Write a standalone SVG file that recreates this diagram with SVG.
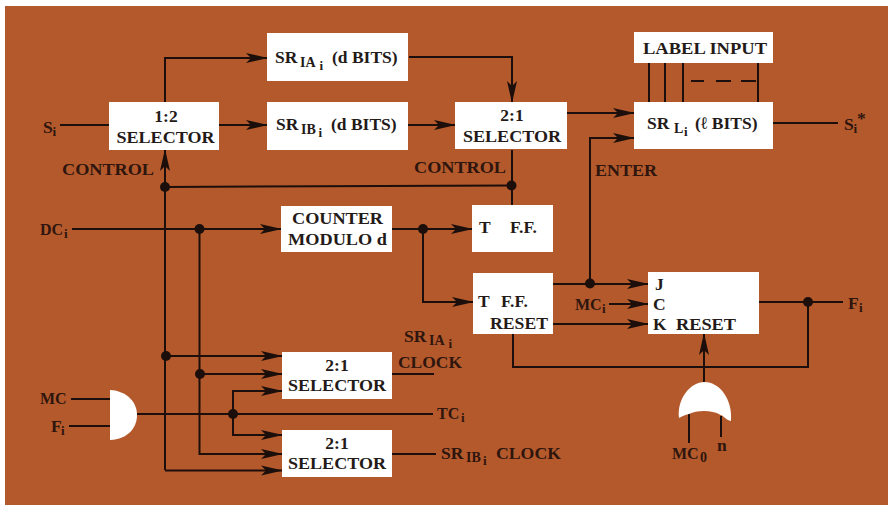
<svg xmlns="http://www.w3.org/2000/svg" width="888" height="505" viewBox="0 0 888 505">
<style>
text{font-family:"Liberation Serif","Times New Roman",serif;font-weight:700;font-size:17.5px;fill:#241a18}
.o{fill:#2e150e}
.m{text-anchor:middle}
.s{font-size:14px}
.ss{font-size:13px}
.n{font-size:16px}
.b{fill:#fff}
.w{fill:none;stroke:#1c0f0b;stroke-width:2}
.a{marker-end:url(#arr)}
.j{fill:#1c0f0b}
</style>
<defs>
<marker id="arr" markerUnits="userSpaceOnUse" markerWidth="22" markerHeight="11" viewBox="0 0 22 11" refX="21" refY="5.500" orient="auto"><path d="M0 0.500L22 5.500L0 10.500L5 5.500Z" fill="#1c0f0b"/></marker>
</defs>
<rect width="888" height="505" fill="#fff"/>
<rect x="5" y="6" width="883" height="499" fill="#b4592b"/>

<g id="connectors">
<path class="w a" d="M165 102V58H267"/>
<path class="w" d="M60 125H109"/>
<path class="w a" d="M219 125H267"/>
<path class="w a" d="M409 57H512V102"/>
<path class="w a" d="M408 125H455"/>
<path class="w a" d="M567 113H634"/>
<path class="w a" d="M590 283V138H634"/>
<path class="w" d="M773 123H838"/>
<path class="w" d="M649 63V102M665 63V102M683 63V102M758 63V103"/>
<path class="w" d="M691 81H704M716 81H731M741 81H756"/>
<path class="w a" d="M165 470V150"/>
<path class="w" d="M165 187L512 185.500"/>
<path class="w" d="M512 150V205"/>
<path class="w a" d="M72 229H281"/>
<path class="w a" d="M199.500 229V454H282"/>
<path class="w a" d="M165 356H282"/>
<path class="w a" d="M200 374H282"/>
<path class="w a" d="M165 470.500H282"/>
<path class="w a" d="M392 229H472"/>
<path class="w a" d="M423 229V302H473"/>
<path class="w a" d="M553 284H648"/>
<path class="w a" d="M609 304H648"/>
<path class="w a" d="M553 324H648"/>
<path class="w" d="M759 302H843"/>
<path class="w" d="M808 302V367H513V334"/>
<path class="w a" d="M704 382V334"/>
<path class="w" d="M689 414V443M721 416V437"/>
<path class="w" d="M71 399H110M69 426H110"/>
<path class="w" d="M137 414H433"/>
<path class="w a" d="M233 414V391H282"/>
<path class="w a" d="M233 414V435H282"/>
<path class="w" d="M392 374H434M392 454H436"/>
<circle class="j" cx="165" cy="187" r="5"/>
<circle class="j" cx="511.500" cy="185.500" r="5"/>
<circle class="j" cx="199.500" cy="229" r="5"/>
<circle class="j" cx="423" cy="229" r="5"/>
<circle class="j" cx="166" cy="356" r="5"/>
<circle class="j" cx="200" cy="374" r="5"/>
<circle class="j" cx="233" cy="414" r="5"/>
<circle class="j" cx="590" cy="283.500" r="5"/>
<circle class="j" cx="808" cy="302" r="5"/>
</g>

<g id="sr-ia"><rect class="b" x="267" y="33" width="141" height="48"/><text x="275" y="63">SR<tspan class="s" x="300" y="67">IA</tspan><tspan class="ss" x="319.500" y="70">i</tspan><tspan x="332" y="63">(d BITS)</tspan></text></g>
<g id="sr-ib"><rect class="b" x="267" y="102" width="141" height="48"/><text x="276" y="130">SR<tspan class="s" x="301" y="134">IB</tspan><tspan class="ss" x="318.500" y="137">i</tspan><tspan x="331" y="130">(d BITS)</tspan></text></g>
<g id="sel-12"><rect class="b" x="109" y="102" width="110" height="48"/><text class="m" x="166" y="122">1:2</text><text class="m" x="165.500" y="143" textLength="98" lengthAdjust="spacingAndGlyphs">SELECTOR</text></g>
<g id="sel-21"><rect class="b" x="455" y="102" width="112" height="47"/><text class="m" x="512" y="121">2:1</text><text class="m" x="512" y="142" textLength="98" lengthAdjust="spacingAndGlyphs">SELECTOR</text></g>
<g id="label-input"><rect class="b" x="634" y="32" width="139" height="31"/><text class="m" x="705" y="54" textLength="124" lengthAdjust="spacingAndGlyphs">LABEL INPUT</text></g>
<g id="sr-l"><rect class="b" x="634" y="102" width="139" height="47"/><text x="647" y="129">SR<tspan class="s" x="674" y="133">L</tspan><tspan class="ss" x="684" y="136">i</tspan><tspan x="695" y="129">(ℓ BITS)</tspan></text></g>
<g id="counter"><rect class="b" x="281" y="206" width="111" height="46"/><text class="m" x="337.500" y="224" textLength="91" lengthAdjust="spacingAndGlyphs">COUNTER</text><text class="m" x="337.500" y="245" textLength="99" lengthAdjust="spacingAndGlyphs">MODULO d</text></g>
<g id="t-ff"><rect class="b" x="472" y="205" width="81" height="47"/><text x="479" y="233">T<tspan x="510">F.F.</tspan></text></g>
<g id="t-ff-reset"><rect class="b" x="473" y="273" width="80" height="61"/><text x="478" y="307">T<tspan x="501">F.F.</tspan></text><text x="490" y="329" textLength="58" lengthAdjust="spacingAndGlyphs">RESET</text></g>
<g id="jk"><rect class="b" x="648" y="272" width="111" height="62"/><text x="655" y="290">J</text><text x="653" y="310">C</text><text x="653" y="330">K</text><text x="676" y="330" textLength="60" lengthAdjust="spacingAndGlyphs">RESET</text></g>
<g id="sel-top"><rect class="b" x="282" y="352" width="110" height="47"/><text class="m" x="337" y="371">2:1</text><text class="m" x="337" y="391" textLength="98" lengthAdjust="spacingAndGlyphs">SELECTOR</text></g>
<g id="sel-bottom"><rect class="b" x="282" y="430" width="110" height="47"/><text class="m" x="337" y="449">2:1</text><text class="m" x="337" y="469" textLength="98" lengthAdjust="spacingAndGlyphs">SELECTOR</text></g>
<g id="and-gate"><path class="b" d="M110 390C128 391 137 403 137 415C137 428 128 439 110 440Z"/></g>
<g id="or-gate"><path class="b" d="M679 418C677 399 690 382 704.500 382C720 382 733 400 731 421C726 420 723 415 720.500 415C716 412 710 411 704 411C698 411 693 412 689 414C685 415 682 416 679 418Z"/></g>

<g id="labels">
<text class="o" x="43" y="133">S<tspan class="ss" x="52.500" y="136">i</tspan></text>
<text class="o n" x="40" y="235">DC<tspan class="ss" x="64" y="238">i</tspan></text>
<text class="o" x="62" y="175" textLength="92" lengthAdjust="spacingAndGlyphs">CONTROL</text>
<text class="o" x="414" y="173" textLength="92" lengthAdjust="spacingAndGlyphs">CONTROL</text>
<text class="o" x="595" y="176" textLength="62" lengthAdjust="spacingAndGlyphs">ENTER</text>
<text class="o" x="844" y="130">S<tspan class="ss" x="853.500" y="133">i</tspan><tspan x="857" y="124">*</tspan></text>
<text class="o n" x="575" y="310">MC<tspan class="ss" x="602" y="313">i</tspan></text>
<text class="o" x="848" y="309">F<tspan class="ss" x="859" y="312">i</tspan></text>
<text class="o n" x="672" y="459">MC<tspan class="s" x="700" y="462">0</tspan></text>
<text class="o" x="717" y="451">n</text>
<text class="o" x="441" y="459">SR<tspan class="s" x="466" y="462">IB</tspan><tspan class="ss" x="483" y="465">i</tspan><tspan x="496" y="459" textLength="65" lengthAdjust="spacingAndGlyphs">CLOCK</tspan></text>
<text class="o n" x="437" y="419">TC<tspan class="ss" x="461" y="422">i</tspan></text>
<text class="o" x="404" y="342">SR<tspan class="s" x="429" y="345">IA</tspan><tspan class="ss" x="448.500" y="348">i</tspan></text>
<text class="o" x="398" y="368" textLength="64" lengthAdjust="spacingAndGlyphs">CLOCK</text>
<text class="o n" x="40" y="404">MC</text>
<text class="o" x="51" y="432">F<tspan class="ss" x="61" y="435">i</tspan></text>
</g>
</svg>
